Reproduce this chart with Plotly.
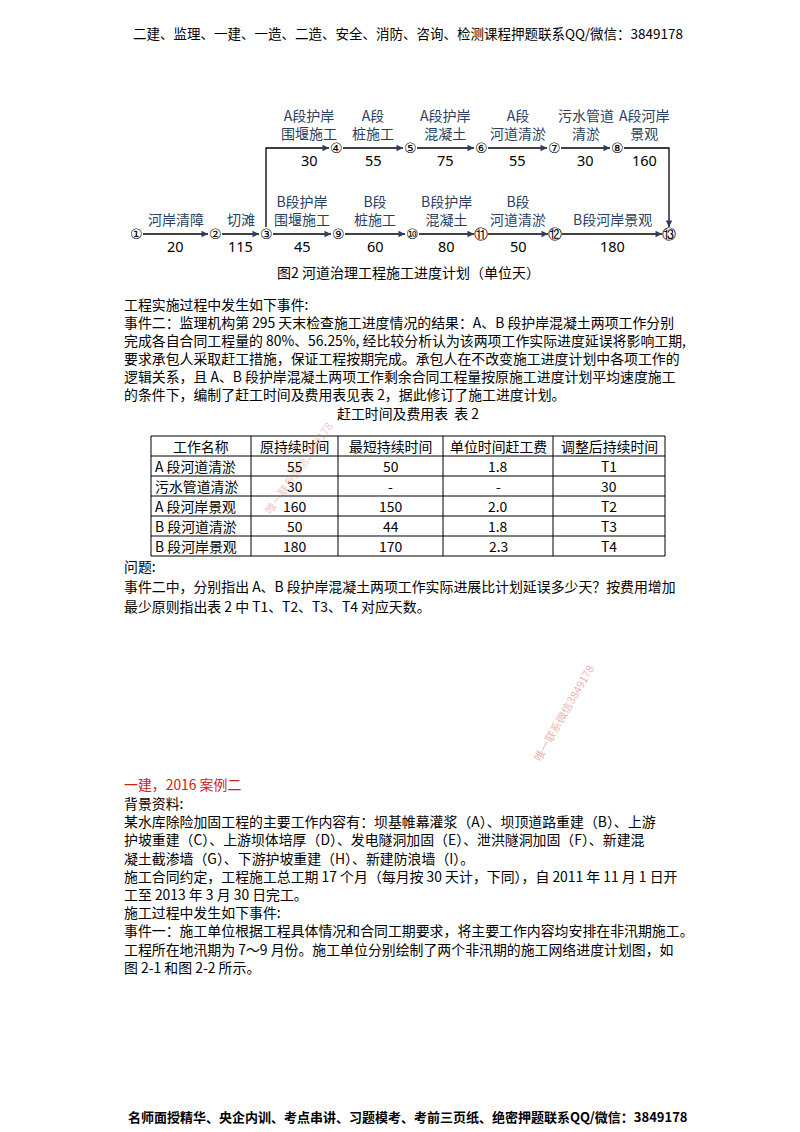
import plotly.graph_objects as go

# network nodes (id, x, y)
node_ids = ["①", "②", "③", "④", "⑤", "⑥", "⑦", "⑧", "⑨", "⑩", "⑪", "⑫", "⑬"]
node_x = [128, 207, 258, 328, 402, 473, 546, 609, 330, 404, 473, 547, 661]
node_y = [226, 226, 226, 140, 140, 140, 140, 140, 226, 226, 226, 226, 226]

# activities: from, to, name, duration
act_from = [0, 1, 2, 3, 4, 5, 6, 2, 8, 9, 10, 11, 7]
act_to = [1, 2, 3, 4, 5, 6, 7, 8, 9, 10, 11, 12, 12]
act_name = ["河岸清障", "切滩", "A段护岸<br>围堰施工", "A段<br>桩施工", "A段护岸<br>混凝土", "A段<br>河道清淤",
            "污水管道<br>清淤", "B段护岸<br>围堰施工", "B段<br>桩施工", "B段护岸<br>混凝土", "B段<br>河道清淤",
            "B段河岸景观", "A段河岸<br>景观"]
act_dur = [20, 115, 30, 55, 75, 55, 30, 45, 60, 80, 50, 180, 160]

table_header = ["工作名称", "原持续时间", "最短持续时间", "单位时间赶工费", "调整后持续时间"]
table_rows = [
    ["A 段河道清淤", "55", "50", "1.8", "T1"],
    ["污水管道清淤", "30", "-", "-", "30"],
    ["A 段河岸景观", "160", "150", "2.0", "T2"],
    ["B 段河道清淤", "50", "44", "1.8", "T3"],
    ["B 段河岸景观", "180", "170", "2.3", "T4"],
]

para1 = [
    "工程实施过程中发生如下事件:",
    "事件二：监理机构第 295 天末检查施工进度情况的结果：A、B 段护岸混凝土两项工作分别",
    "完成各自合同工程量的 80%、56.25%, 经比较分析认为该两项工作实际进度延误将影响工期,",
    "要求承包人采取赶工措施，保证工程按期完成。承包人在不改变施工进度计划中各项工作的",
    "逻辑关系，且 A、B 段护岸混凝土两项工作剩余合同工程量按原施工进度计划平均速度施工",
    "的条件下，编制了赶工时间及费用表见表 2，据此修订了施工进度计划。",
]
para2 = [
    "问题:",
    "事件二中，分别指出 A、B 段护岸混凝土两项工作实际进展比计划延误多少天？按费用增加",
    "最少原则指出表 2 中 T1、T2、T3、T4 对应天数。",
]
para3 = [
    "背景资料:",
    "某水库除险加固工程的主要工作内容有：坝基帷幕灌浆（A）、坝顶道路重建（B）、上游",
    "护坡重建（C）、上游坝体培厚（D）、发电隧洞加固（E）、泄洪隧洞加固（F）、新建混",
    "凝土截渗墙（G）、下游护坡重建（H）、新建防浪墙（I）。",
    "施工合同约定，工程施工总工期 17 个月（每月按 30 天计，下同），自 2011 年 11 月 1 日开",
    "工至 2013 年 3 月 30 日完工。",
    "施工过程中发生如下事件:",
    "事件一：施工单位根据工程具体情况和合同工期要求，将主要工作内容均安排在非汛期施工。",
    "工程所在地汛期为 7～9 月份。施工单位分别绘制了两个非汛期的施工网络进度计划图，如",
    "图 2-1 和图 2-2 所示。",
]

CJK = "Noto Sans CJK SC"
BODY = 13.9
fig = go.Figure()
ann = []

def txt(x, y, s, size=BODY, anchor="left", color="black", font=CJK, angle=0, shift=0):
    ann.append(dict(x=x, y=y, text=s, showarrow=False, xanchor=anchor, yanchor="middle",
                    font=dict(size=size, color=color, family=font), textangle=angle, xshift=shift))

def arrow(x, y, ax, ay):
    ann.append(dict(x=x, y=y, ax=ax, ay=ay, xref="x", yref="y", axref="x", ayref="y",
                    showarrow=True, arrowhead=2, arrowsize=1, arrowwidth=1.3, text=""))

def seg(xs, ys):
    fig.add_trace(go.Scatter(x=xs, y=ys, mode="lines", line=dict(color="black", width=1.3),
                             hoverinfo="skip"))

# header / footer
txt(400, 25, "二建、监理、一建、一造、二造、安全、消防、咨询、检测课程押题联系QQ/微信：3849178", 13.5, "center")
txt(400, 1108, "<b>名师面授精华、央企内训、考点串讲、习题模考、考前三页纸、绝密押题联系QQ/微信：3849178</b>", 13, "center")

# network arrows
R = 7
for f, t, name, d in zip(act_from, act_to, act_name, act_dur):
    x0, y0, x1, y1 = node_x[f], node_y[f], node_x[t], node_y[t]
    if f == 2 and t == 3:
        seg([x0, x0, x1 - R], [y0 - R, y1, y1])
        arrow(x1 - R, y1, x1 - R - 5, y1)
        mx, ty = (x0 + x1) / 2 + 8, y1
    elif f == 7 and t == 12:
        seg([x0 + R, x1, x1], [y0, y0, y1 - R])
        arrow(x1, y1 - R, x1, y1 - R - 5)
        mx, ty = (x0 + x1) / 2 + 1, y0
    else:
        seg([x0 + R, x1 - R], [y0, y1])
        arrow(x1 - R, y1, x1 - R - 5, y1)
        mx, ty = (x0 + x1) / 2, y0
    ann.append(dict(x=mx, y=ty - 3, text=name, showarrow=False, xanchor="center", yanchor="bottom",
                    font=dict(size=14, family=CJK), align="center"))
    txt(mx, ty + 12, str(d), 14.5, "center", font="Noto Sans")

for nid, x, y in zip(node_ids, node_x, node_y):
    txt(x, y, nid, 14, "center", font="DejaVu Sans")

txt(400, 264, "图2 河道治理工程施工进度计划（单位天）", 14, "center")

# paragraphs
for i, s in enumerate(para1):
    txt(120, 296 + i * 18, s, shift=-6)
txt(400, 405, "赶工时间及费用表  表 2", anchor="center")

# table
col_edges = [143, 243, 330, 435, 545, 657]
row_edges = [428, 448, 468, 488, 508, 528, 548]
for x in col_edges:
    fig.add_trace(go.Scatter(x=[x, x], y=[row_edges[0], row_edges[-1]], mode="lines",
                             line=dict(color="black", width=1), hoverinfo="skip"))
for y in row_edges:
    fig.add_trace(go.Scatter(x=[col_edges[0], col_edges[-1]], y=[y, y], mode="lines",
                             line=dict(color="black", width=1), hoverinfo="skip"))
for r, row in enumerate([table_header] + table_rows):
    yc = (row_edges[r] + row_edges[r + 1]) / 2
    for c, cell in enumerate(row):
        if c == 0 and r > 0:
            txt(col_edges[0] + 2, yc, cell)
        else:
            txt((col_edges[c] + col_edges[c + 1]) / 2, yc, cell, anchor="center")

for i, s in enumerate(para2):
    txt(120, 558 + i * 20, s, shift=-6)

txt(120, 776, "一建，2016 案例二", color="#d0201a", shift=-6)
for i, s in enumerate(para3):
    txt(120, 795 + i * 18.2, s, shift=-6)

# watermarks
txt(290, 460, "唯一联系微信3849178", 11, "center", color="rgba(210,80,80,0.35)", angle=-55)
txt(555, 705, "唯一联系微信3849178", 11, "center", color="rgba(210,80,80,0.45)", angle=-60)

fig.update_layout(
    width=800, height=1132, margin=dict(l=0, r=0, t=0, b=0),
    paper_bgcolor="white", plot_bgcolor="white", showlegend=False,
    xaxis=dict(range=[0, 800], visible=False, fixedrange=True),
    yaxis=dict(range=[1132, 0], visible=False, fixedrange=True),
    annotations=ann,
)
fig.write_html("out.html")
